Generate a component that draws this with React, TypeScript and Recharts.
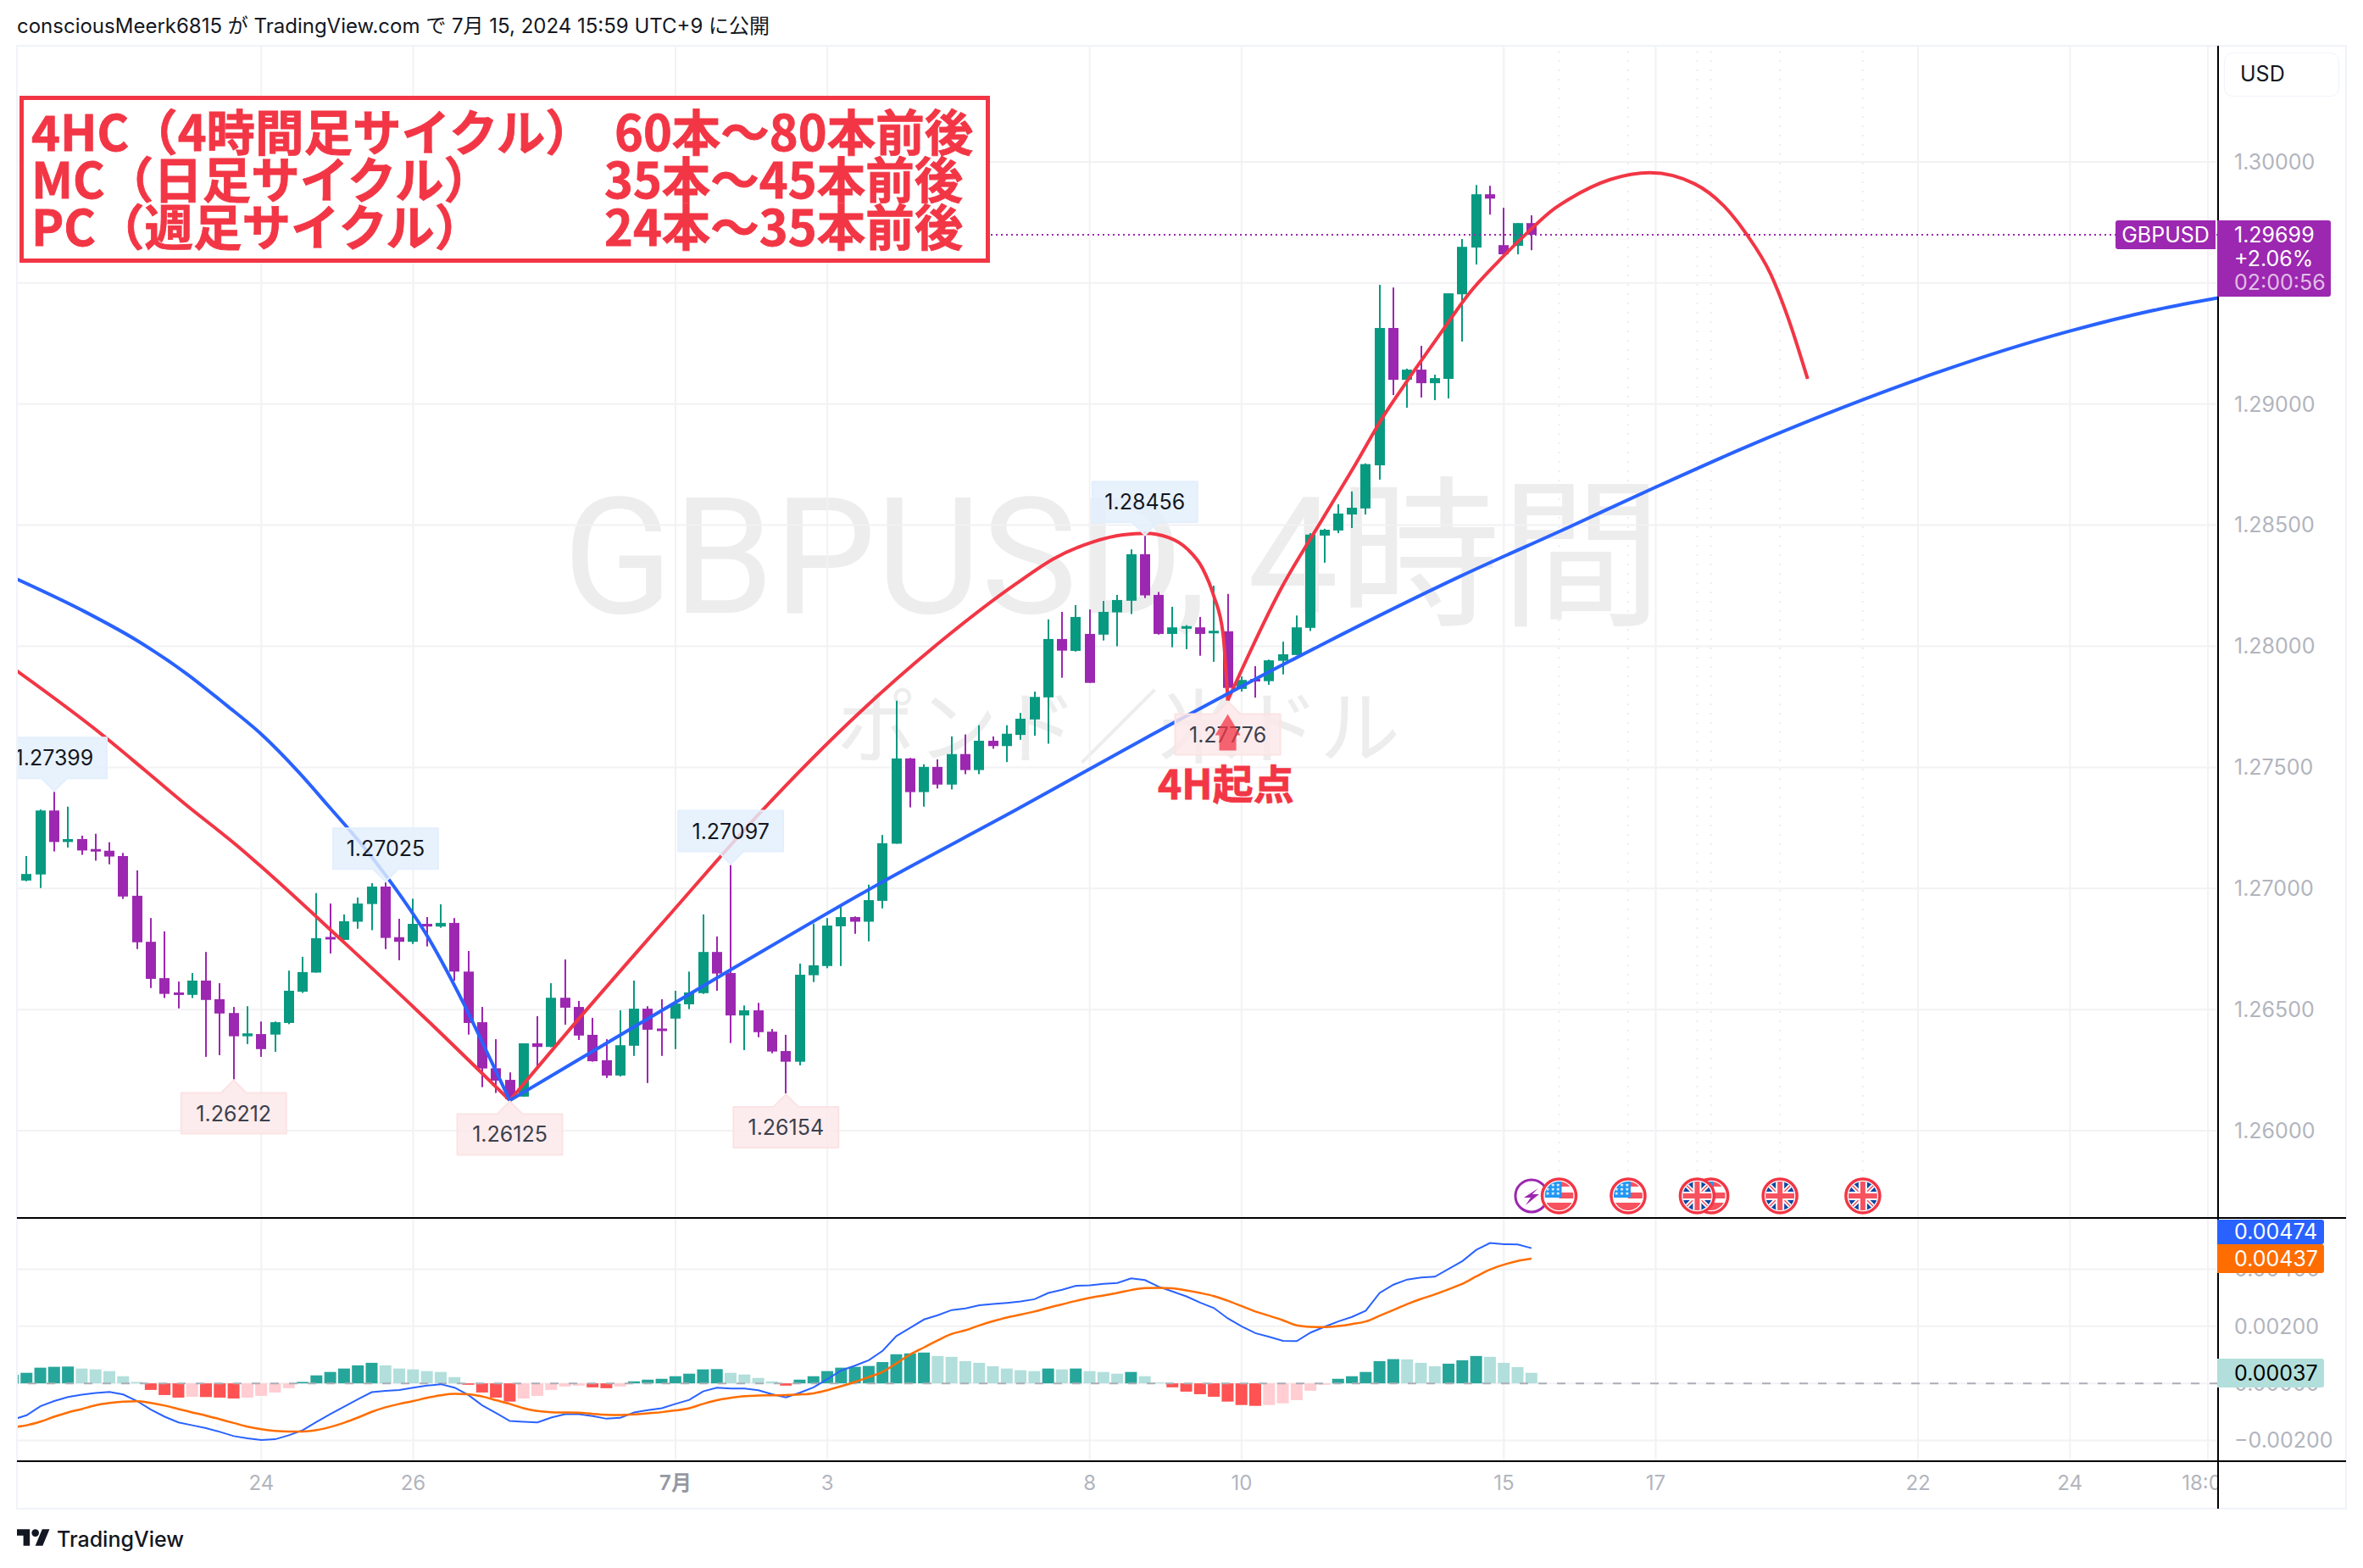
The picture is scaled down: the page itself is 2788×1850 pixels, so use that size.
import React from "react";
import {
  Bar,
  CartesianGrid,
  Cell,
  ComposedChart,
  Line,
  ReferenceDot,
  ReferenceLine,
  XAxis,
  YAxis,
} from "recharts";

// 4H bars, oldest first.
const opens = [
  1.27082, 1.27033, 1.27058, 1.27322, 1.27192, 1.27204, 1.27163, 1.27156, 1.27134, 1.2697,
  1.2678, 1.2663, 1.26571, 1.26561, 1.2662, 1.26543, 1.26486, 1.2639, 1.26399, 1.26397,
  1.26445, 1.26574, 1.26653, 1.268, 1.26788, 1.26863, 1.26936, 1.27008, 1.26799, 1.2678,
  1.26854, 1.26843, 1.26858, 1.26657, 1.26448, 1.26258, 1.2621, 1.26141, 1.26361, 1.26346,
  1.26549, 1.26511, 1.26396, 1.26291, 1.26228, 1.26351, 1.26504, 1.26422, 1.26463, 1.26522,
  1.26568, 1.26738, 1.26651, 1.26476, 1.26497, 1.26409, 1.26329, 1.26285, 1.26642, 1.2668,
  1.26844, 1.26882, 1.26863, 1.26949, 1.27185, 1.27537, 1.27398, 1.27502, 1.27429, 1.27555,
  1.27489, 1.2761, 1.27588, 1.27634, 1.27698, 1.27789, 1.2803, 1.27981, 1.28051, 1.28048,
  1.2814, 1.28188, 1.2838, 1.28212, 1.28051, 1.28077, 1.28078, 1.28059, 1.28062, 1.27824,
  1.27865, 1.27856, 1.2794, 1.27964, 1.28076, 1.28457, 1.28478, 1.28544, 1.28569, 1.28747,
  1.29314, 1.291, 1.29142, 1.29086, 1.29104, 1.29453, 1.29646, 1.29866, 1.29656, 1.29653,
  1.29747,
];
const closes = [
  1.27033, 1.2706, 1.27322, 1.27192, 1.27204, 1.27157, 1.27158, 1.27132, 1.26967, 1.26778,
  1.26627, 1.26565, 1.26565, 1.2662, 1.2654, 1.26484, 1.2639, 1.26402, 1.26337, 1.26448,
  1.26578, 1.26655, 1.26795, 1.26794, 1.26865, 1.26938, 1.27008, 1.26796, 1.2678, 1.26854,
  1.26843, 1.26858, 1.26657, 1.26445, 1.26257, 1.26207, 1.2613, 1.26361, 1.26346, 1.26549,
  1.26508, 1.26393, 1.26287, 1.26228, 1.26353, 1.26504, 1.26417, 1.26417, 1.26525, 1.26571,
  1.26738, 1.26649, 1.26476, 1.26497, 1.26407, 1.26327, 1.26285, 1.26644, 1.26683, 1.26847,
  1.26882, 1.26863, 1.26952, 1.27187, 1.27537, 1.27398, 1.27502, 1.27429, 1.27555, 1.27489,
  1.2761, 1.27588, 1.27639, 1.27701, 1.27791, 1.2803, 1.27982, 1.28121, 1.27849, 1.28142,
  1.28191, 1.2838, 1.2821, 1.28051, 1.28078, 1.28083, 1.28051, 1.28064, 1.27828, 1.27861,
  1.2786, 1.27942, 1.27967, 1.28078, 1.28461, 1.28481, 1.28548, 1.28572, 1.28752, 1.29314,
  1.291, 1.29142, 1.29086, 1.29107, 1.29457, 1.29649, 1.29866, 1.29848, 1.29618, 1.29747,
  1.29699,
];
const highs = [
  1.2709, 1.27134, 1.27326, 1.27399, 1.27338, 1.27218, 1.27226, 1.27191, 1.27147, 1.27075,
  1.26878, 1.26823, 1.26616, 1.26651, 1.26738, 1.26609, 1.26511, 1.26514, 1.26451, 1.26451,
  1.26661, 1.26718, 1.26981, 1.26938, 1.26893, 1.26963, 1.27022, 1.27025, 1.26875, 1.26958,
  1.26882, 1.26935, 1.26878, 1.26742, 1.26511, 1.26378, 1.26241, 1.26361, 1.26473, 1.26609,
  1.26707, 1.26536, 1.26466, 1.26378, 1.26497, 1.2662, 1.26514, 1.26543, 1.26578, 1.26657,
  1.26893, 1.26802, 1.27097, 1.26517, 1.26528, 1.2642, 1.26396, 1.2669, 1.26855, 1.26878,
  1.26931, 1.26885, 1.27016, 1.27221, 1.27775, 1.27539, 1.27513, 1.27533, 1.27628, 1.27636,
  1.27674, 1.27628, 1.27674, 1.27725, 1.27813, 1.28111, 1.28142, 1.2817, 1.28152, 1.28187,
  1.28212, 1.284, 1.28456, 1.28224, 1.28163, 1.28087, 1.28121, 1.2825, 1.28216, 1.27876,
  1.27918, 1.27945, 1.28019, 1.28127, 1.28467, 1.28485, 1.28586, 1.28639, 1.28755, 1.29492,
  1.29481, 1.29146, 1.2924, 1.29121, 1.29457, 1.29681, 1.29904, 1.29901, 1.2981, 1.29747,
  1.29779,
];
const lows = [
  1.2703, 1.2703, 1.27002, 1.27153, 1.27169, 1.27139, 1.27115, 1.271, 1.26957, 1.2675,
  1.26589, 1.26548, 1.26505, 1.26548, 1.26305, 1.26312, 1.26212, 1.26358, 1.26305, 1.26326,
  1.2644, 1.26569, 1.26653, 1.26732, 1.26788, 1.26834, 1.26828, 1.2675, 1.26704, 1.26771,
  1.26761, 1.26838, 1.26619, 1.26397, 1.2618, 1.26156, 1.26125, 1.26141, 1.26259, 1.26345,
  1.26438, 1.26375, 1.26285, 1.26218, 1.26224, 1.26309, 1.26197, 1.26309, 1.26337, 1.26502,
  1.26565, 1.26578, 1.26362, 1.26333, 1.26386, 1.2632, 1.26154, 1.2627, 1.26614, 1.26671,
  1.2668, 1.26813, 1.26782, 1.26918, 1.27185, 1.27335, 1.27338, 1.27413, 1.27409, 1.27472,
  1.27472, 1.27577, 1.27522, 1.27614, 1.27631, 1.27598, 1.2787, 1.27978, 1.27849, 1.28024,
  1.28, 1.28133, 1.28199, 1.28048, 1.27996, 1.27988, 1.27961, 1.27936, 1.27776, 1.27813,
  1.27788, 1.27841, 1.27884, 1.27964, 1.28063, 1.28345, 1.28467, 1.28488, 1.28544, 1.28688,
  1.29037, 1.28985, 1.29027, 1.29016, 1.29023, 1.29258, 1.29576, 1.29782, 1.29618, 1.29618,
  1.29635,
];

// MACD pane, in units of 0.00001
const histValues = [
  30, 37, 55, 58, 59, 52, 49, 43, 25, 5,
  -23, -41, -50, -47, -48, -50, -53, -50, -44, -32,
  -17, 5, 28, 40, 52, 63, 72, 63, 52, 49,
  43, 40, 22, -5, -32, -50, -64, -53, -44, -23,
  -11, -8, -14, -17, -11, 7, 13, 16, 25, 34,
  49, 50, 37, 31, 19, 7, -8, 13, 25, 43,
  55, 58, 61, 75, 102, 105, 108, 96, 93, 78,
  72, 60, 52, 46, 43, 52, 49, 52, 43, 40,
  34, 40, 25, 3, -14, -29, -38, -47, -64, -76,
  -79, -76, -70, -59, -26, -5, 16, 25, 40, 78,
  85, 84, 72, 60, 69, 81, 96, 93, 72, 57,
  37,
];
const macdValues = [
  -127, -112, -80, -62, -48, -40, -34, -30, -39, -62,
  -92, -117, -137, -147, -157, -170, -185, -193, -199, -196,
  -182, -164, -135, -108, -82, -56, -31, -26, -23, -15,
  -8, -3, -15, -41, -77, -104, -132, -135, -137, -120,
  -108, -108, -115, -124, -121, -102, -94, -87, -72, -58,
  -28, -15, -18, -18, -24, -38, -49, -33, -14, 15,
  45, 62, 81, 114, 166, 195, 224, 239, 257, 263,
  274, 278, 282, 287, 295, 317, 328, 342, 344, 349,
  352, 368, 362, 339, 322, 305, 283, 264, 228, 200,
  176, 163, 149, 148, 178, 198, 217, 233, 255, 317,
  346, 364, 371, 374, 401, 429, 468, 492, 488, 487,
  474,
];
const signalValues = [
  -154, -147, -134, -117, -102, -90, -77, -69, -64, -63,
  -69, -78, -90, -102, -113, -126, -139, -152, -161, -167,
  -169, -169, -164, -153, -138, -120, -100, -84, -72, -62,
  -51, -42, -37, -38, -46, -59, -72, -87, -97, -101,
  -102, -103, -107, -110, -111, -109, -105, -101, -95, -87,
  -72, -59, -51, -45, -43, -42, -41, -39, -35, -24,
  -10, 5, 22, 40, 70, 101, 126, 151, 173, 186,
  203, 218, 231, 241, 252, 265, 277, 289, 300, 308,
  317, 327, 334, 335, 333, 326, 317, 306, 290, 271,
  252, 237, 221, 203, 198, 197, 201, 208, 217, 237,
  257, 278, 296, 312, 330, 349, 375, 399, 416, 429,
  437,
];

// drawn arcs: [bar, price]
const redArc1 = [[0.3, 1.27898], [6.44, 1.27636], [9.51, 1.27491], [12.58, 1.27344], [16.26, 1.27176], [17.98, 1.27091], [23.87, 1.26784], [29.2, 1.26501], [36, 1.26125]];
const redArc2 = [[36, 1.26125], [41.37, 1.26487], [47.67, 1.26898], [53.95, 1.27302], [61.38, 1.27729], [67.21, 1.2802], [72.74, 1.28261], [75.48, 1.28364], [78.2, 1.2843], [80.41, 1.2846], [82.06, 1.28466], [83.7, 1.28449], [85.08, 1.28401], [86.17, 1.28322], [86.98, 1.28209], [87.66, 1.28051], [88, 1.27776]];
const redArc3 = [[88, 1.27776], [91.92, 1.28244], [94.84, 1.28523], [97.29, 1.28755], [99.32, 1.28954], [100.98, 1.29094], [103.43, 1.29293], [105.46, 1.29455], [107.52, 1.29584], [109.57, 1.297], [111.6, 1.29804], [112.64, 1.29843], [115.71, 1.29927], [118.6, 1.29955], [121.78, 1.2991], [123.93, 1.29818], [125.59, 1.297], [127.31, 1.29538], [128.54, 1.29363], [130, 1.29104]];
const blueArc1 = [[0.3, 1.28277], [5.21, 1.28143], [8.9, 1.28027], [12.58, 1.27887], [15.44, 1.27758], [17.9, 1.27642], [20.74, 1.27478], [22.81, 1.27344], [25.35, 1.27176], [27.56, 1.27012], [30.04, 1.26802], [32.65, 1.26526], [34.68, 1.26284], [36, 1.26125]];
const blueArc2 = [[36, 1.26125], [40.82, 1.26288], [51.78, 1.26657], [62.73, 1.27019], [72.74, 1.27327], [82.31, 1.27629], [94.65, 1.28002], [104.85, 1.28289], [112.64, 1.2849], [118.96, 1.28656], [125.47, 1.28821], [134, 1.29018], [137.99, 1.29102], [148.98, 1.29301], [155.4, 1.29391], [159.73, 1.29438]];

const priceTicks = [1.26, 1.265, 1.27, 1.275, 1.28, 1.285, 1.29, 1.295, 1.3];
const macdTicks = [-0.002, 0, 0.002, 0.004];
const dateTickBars = [18, 29, 48, 59, 78, 89, 108, 119, 138, 149, 159];
const dateTickLabels = ["24", "26", "7月", "3", "8", "10", "15", "17", "22", "24", "18:00"];
const highCallouts = [[3, 1.27399], [27, 1.27025], [52, 1.27097], [82, 1.28456]];
const lowCallouts = [[16, 1.26212], [36, 1.26125], [56, 1.26154], [88, 1.27776]];
const eventBars = [110, 112, 117, 123, 122, 128, 134];
const eventKinds = ["bolt", "us", "us", "us", "uk", "uk", "uk"];

const LAST_PRICE = 1.29699;
const EVENT_PRICE = 1.25731;
const X_DOMAIN: [number, number] = [0.3, 159.73];

const FONT = "Inter, 'Noto Sans CJK JP', sans-serif";
const JP_FONT = "'Noto Sans CJK JP', sans-serif";
const GREEN = "#089981";
const PURPLE = "#9C27B0";
const RED = "#F23645";
const BLUE = "#2962FF";
const ORANGE = "#FF6D00";
const GRID = "#F2F2F5";
const FRAME = "#F0F3FA";
const AXIS_TEXT = "#B2B5BE";

const toPoints = (rows: number[][]) => rows.map(([bar, price]) => ({ bar, price }));

const candles = opens.map((open, bar) => ({
  bar,
  open,
  close: closes[bar],
  range: [lows[bar], highs[bar]],
}));

const macdRows = histValues.map((hist, bar) => ({
  bar,
  hist: hist / 100000,
  macd: macdValues[bar] / 100000,
  signal: signalValues[bar] / 100000,
}));

function histColor(index: number) {
  const v = histValues[index];
  const prev = index > 0 ? histValues[index - 1] : 0;
  if (v >= 0) return v >= prev ? "#26A69A" : "#B2DFDB";
  return v < prev ? "#FF5252" : "#FFCDD2";
}

function Candle(props: any) {
  const { x, y, width, height, payload } = props;
  const [low, high] = payload.range;
  const top = Math.min(y, y + height);
  const h = Math.abs(height);
  const perPrice = h / (high - low);
  const bodyTop = top + (high - Math.max(payload.open, payload.close)) * perPrice;
  const bodyBottom = top + (high - Math.min(payload.open, payload.close)) * perPrice;
  const color = payload.close >= payload.open ? GREEN : PURPLE;
  const cx = Math.round(x + width / 2);
  return (
    <g>
      <rect x={cx - 1} y={top} width={2} height={h} fill={color} />
      <rect x={cx - 6} y={bodyTop} width={12} height={Math.max(bodyBottom - bodyTop, 3)} fill={color} />
    </g>
  );
}

// little price tag with a pointer, above the high or below the low
function Callout(props: any) {
  const { cx, cy, label, up } = props;
  const w = 124;
  const h = 48;
  const tip = up ? cy - 1 : cy + 1;
  const near = up ? tip - 15 : tip + 15;
  const far = up ? near - h : near + h;
  const l = cx - w / 2;
  const r = cx + w / 2;
  const d = `M${l} ${near} L${cx - 15} ${near} L${cx} ${tip} L${cx + 15} ${near} L${r} ${near} L${r} ${far} L${l} ${far} Z`;
  return (
    <g>
      <path
        d={d}
        fill={up ? "rgba(227,239,253,0.82)" : "rgba(253,232,233,0.82)"}
        stroke={up ? "#E3EFFD" : "#FBE3E4"}
        strokeWidth={2}
        strokeLinejoin="round"
      />
      <text
        x={cx}
        y={(near + far) / 2 + 9}
        textAnchor="middle"
        fontSize={25}
        fontFamily={FONT}
        fill={up ? "#131722" : "#3C404C"}
      >
        {label}
      </text>
    </g>
  );
}

function EventIcon(props: any) {
  const { cx, cy, kind, id } = props;
  if (kind === "bolt") {
    return (
      <g>
        <circle cx={cx} cy={cy} r={19} fill="#fff" stroke={PURPLE} strokeWidth={3} />
        <path
          d={`M${cx + 8} ${cy - 9} L${cx - 9} ${cy + 2} L${cx - 1} ${cy + 2} L${cx - 7} ${cy + 11} L${cx + 9} ${cy - 2} L${cx + 1} ${cy - 2} Z`}
          fill={PURPLE}
        />
      </g>
    );
  }
  const left = cx - 17;
  const top = cy - 17;
  return (
    <g>
      <clipPath id={id}>
        <circle cx={cx} cy={cy} r={17} />
      </clipPath>
      <circle cx={cx} cy={cy} r={20} fill="#fff" stroke={RED} strokeWidth={3.5} />
      <g clipPath={`url(#${id})`}>
        {kind === "us" ? (
          <g>
            <rect x={left} y={top} width={34} height={34} fill="#fff" />
            <rect x={cx} y={top} width={17} height={6} fill="#F7525F" />
            <rect x={cx} y={cy - 4} width={17} height={7} fill="#F7525F" />
            <rect x={left} y={cy + 8} width={34} height={10} fill="#F7525F" />
            <rect x={left} y={top} width={20} height={19} fill="#2196F3" />
            {[-5, 0, 5].map((dy) => (
              <text key={dy} x={cx - 7} y={cy - 6 + dy} textAnchor="middle" fontSize={5} letterSpacing={1} fill="#fff">
                ★★★
              </text>
            ))}
          </g>
        ) : (
          <g>
            <rect x={left} y={top} width={34} height={34} fill="#0D47A1" />
            <path d={`M${left} ${top} L${cx + 17} ${cy + 17} M${cx + 17} ${top} L${left} ${cy + 17}`} stroke="#fff" strokeWidth={5} />
            <path d={`M${left} ${top} L${cx + 17} ${cy + 17} M${cx + 17} ${top} L${left} ${cy + 17}`} stroke="#F7525F" strokeWidth={1.5} />
            <rect x={cx - 5} y={top} width={10} height={34} fill="#fff" />
            <rect x={left} y={cy - 5} width={34} height={10} fill="#fff" />
            <rect x={cx - 3} y={top} width={6} height={34} fill="#F7525F" />
            <rect x={left} y={cy - 3} width={34} height={6} fill="#F7525F" />
          </g>
        )}
      </g>
    </g>
  );
}

function TimeTick(props: any) {
  const { x, y, payload } = props;
  const label = dateTickLabels[dateTickBars.indexOf(payload.value)];
  const strong = label === "7月";
  return (
    <text
      x={x}
      y={y + 26}
      textAnchor="middle"
      fontSize={24}
      fontFamily={FONT}
      fontWeight={strong ? 600 : 400}
      fill={strong ? "#9598A1" : AXIS_TEXT}
    >
      {label}
    </text>
  );
}

const macdTickLabel = (v: number) => (v < 0 ? "−" : "") + Math.abs(v).toFixed(5);

function PriceChart() {
  return (
    <ComposedChart
      width={2748}
      height={1383}
      data={candles}
      margin={{ top: 0, right: 0, bottom: 0, left: 0 }}
      style={{ position: "absolute", left: 20, top: 54 }}
    >
      <CartesianGrid
        stroke={GRID}
        strokeWidth={2}
        horizontalValues={priceTicks}
        verticalValues={dateTickBars}
      />
      <XAxis dataKey="bar" type="number" domain={X_DOMAIN} allowDataOverflow hide ticks={dateTickBars} />
      <YAxis
        orientation="right"
        width={151}
        domain={[1.2564, 1.30479]}
        allowDataOverflow
        ticks={priceTicks}
        tickFormatter={(v: number) => v.toFixed(5)}
        tick={{ fill: AXIS_TEXT, fontSize: 25, fontFamily: FONT }}
        tickSize={0}
        tickMargin={19}
        axisLine={false}
        tickLine={false}
        interval={0}
      />
      {eventBars.slice(1).map((bar) => (
        <ReferenceLine key={bar} x={bar} stroke="#EDEDF0" strokeWidth={2} strokeDasharray="2 9" />
      ))}
      <ReferenceLine y={LAST_PRICE} stroke={PURPLE} strokeWidth={2} strokeDasharray="2 4" />
      <Bar dataKey="range" barSize={12} shape={Candle} isAnimationActive={false} />
      <Line data={toPoints(redArc1)} dataKey="price" type="monotone" stroke={RED} strokeWidth={4} dot={false} isAnimationActive={false} />
      <Line data={toPoints(redArc2)} dataKey="price" type="monotone" stroke={RED} strokeWidth={4} dot={false} isAnimationActive={false} />
      <Line data={toPoints(redArc3)} dataKey="price" type="monotone" stroke={RED} strokeWidth={4} dot={false} isAnimationActive={false} />
      <Line data={toPoints(blueArc1)} dataKey="price" type="monotone" stroke={BLUE} strokeWidth={4} dot={false} isAnimationActive={false} />
      <Line data={toPoints(blueArc2)} dataKey="price" type="monotone" stroke={BLUE} strokeWidth={4} dot={false} isAnimationActive={false} />
      {highCallouts.map(([bar, price]) => (
        <ReferenceDot
          key={bar}
          x={bar}
          y={price}
          r={0}
          shape={(p: any) => <Callout {...p} up label={price.toFixed(5)} />}
        />
      ))}
      {lowCallouts.map(([bar, price]) => (
        <ReferenceDot
          key={bar}
          x={bar}
          y={price}
          r={0}
          shape={(p: any) => <Callout {...p} label={price.toFixed(5)} />}
        />
      ))}
      {eventBars.map((bar, i) => (
        <ReferenceDot
          key={bar}
          x={bar}
          y={EVENT_PRICE}
          r={0}
          shape={(p: any) => <EventIcon {...p} kind={eventKinds[i]} id={`event-${bar}`} />}
        />
      ))}
      {/* 4H origin arrow under the low */}
      <ReferenceDot
        x={88}
        y={1.27776}
        r={0}
        shape={(p: any) => (
          <path
            d={`M${p.cx} ${p.cy + 16} L${p.cx + 15} ${p.cy + 41} L${p.cx + 10} ${p.cy + 41} L${p.cx + 10} ${p.cy + 59} L${p.cx - 10} ${p.cy + 59} L${p.cx - 10} ${p.cy + 41} L${p.cx - 15} ${p.cy + 41} Z`}
            fill={RED}
            fillOpacity={0.75}
          />
        )}
      />
    </ComposedChart>
  );
}

function MacdChart() {
  return (
    <ComposedChart
      width={2748}
      height={342}
      data={macdRows}
      margin={{ top: 0, right: 0, bottom: 0, left: 0 }}
      style={{ position: "absolute", left: 20, top: 1438 }}
    >
      <CartesianGrid
        stroke={GRID}
        strokeWidth={2}
        horizontalValues={macdTicks}
        verticalValues={dateTickBars}
      />
      <XAxis
        dataKey="bar"
        type="number"
        domain={X_DOMAIN}
        allowDataOverflow
        ticks={dateTickBars}
        interval={0}
        height={56}
        axisLine={false}
        tickLine={false}
        tick={TimeTick}
      />
      <YAxis
        orientation="right"
        width={151}
        domain={[-0.00273, 0.00577]}
        allowDataOverflow
        ticks={macdTicks}
        tickFormatter={macdTickLabel}
        tick={{ fill: AXIS_TEXT, fontSize: 25, fontFamily: FONT }}
        tickSize={0}
        tickMargin={19}
        axisLine={false}
        tickLine={false}
        interval={0}
      />
      <Bar dataKey="hist" barSize={14} isAnimationActive={false}>
        {macdRows.map((row, i) => (
          <Cell key={row.bar} fill={histColor(i)} />
        ))}
      </Bar>
      <ReferenceLine y={0} stroke="#ABAEB6" strokeWidth={2} strokeDasharray="10 12" />
      <Line dataKey="macd" type="linear" stroke={BLUE} strokeWidth={2} dot={false} isAnimationActive={false} />
      <Line dataKey="signal" type="monotone" stroke={ORANGE} strokeWidth={2.5} dot={false} isAnimationActive={false} />
    </ComposedChart>
  );
}

function Box(props: { left: number; top: number; width: number; height: number; style?: React.CSSProperties; children?: React.ReactNode }) {
  const { left, top, width, height, style, children } = props;
  return <div style={{ position: "absolute", left, top, width, height, ...style }}>{children}</div>;
}

function Tag(props: { left: number; top: number; width: number; height: number; color: string; text: string; textColor?: string; pad?: number }) {
  const { left, top, width, height, color, text, textColor = "#fff", pad = 20 } = props;
  return (
    <Box
      left={left}
      top={top}
      width={width}
      height={height}
      style={{
        background: color,
        color: textColor,
        fontSize: 25,
        lineHeight: `${height}px`,
        paddingLeft: pad,
        boxSizing: "border-box",
        borderRadius: "0 3px 3px 0",
      }}
    >
      {text}
    </Box>
  );
}

const noteText: React.CSSProperties = {
  position: "absolute",
  whiteSpace: "nowrap",
  color: RED,
  fontFamily: JP_FONT,
  fontWeight: 700,
  fontSize: 57.5,
  lineHeight: "56px",
  WebkitTextStroke: `0.8px ${RED}`,
};

export default function App() {
  return (
    <div
      style={{
        position: "absolute",
        left: 0,
        top: 0,
        width: 2788,
        height: 1850,
        background: "#fff",
        overflow: "hidden",
        fontFamily: FONT,
      }}
    >
      <div style={{ position: "absolute", left: 20, top: 16, fontSize: 24, lineHeight: "30px", color: "#131722", whiteSpace: "nowrap" }}>
        consciousMeerk6815 が TradingView.com で 7月 15, 2024 15:59 UTC+9 に公開
      </div>

      {/* watermark sits behind the chart */}
      <div style={{ position: "absolute", left: 664, top: 538, fontSize: 191, lineHeight: "240px", color: "#EDEDED", whiteSpace: "nowrap", fontFamily: "Roboto, 'Noto Sans CJK JP', sans-serif" }}>
        GBPUSD, 4時間
      </div>
      <div style={{ position: "absolute", left: 987, top: 792, fontSize: 95, lineHeight: "120px", color: "#EDEDED", whiteSpace: "nowrap", fontFamily: JP_FONT }}>
        ポンド／米ドル
      </div>

      <PriceChart />
      <MacdChart />

      {/* pane frame and separators */}
      <Box left={2618} top={1725} width={150} height={54} style={{ background: "#fff" }} />
      <Box left={19} top={53} width={2750} height={1728} style={{ border: `2px solid ${FRAME}`, boxSizing: "border-box" }} />
      <Box left={20} top={1436} width={2748} height={2} style={{ background: "#000" }} />
      <Box left={20} top={1723} width={2748} height={2} style={{ background: "#000" }} />
      <Box left={2616} top={54} width={2} height={1726} style={{ background: "#000" }} />

      <Box left={2624} top={62} width={136} height={52} style={{ border: `1.5px solid ${FRAME}`, borderRadius: 10, boxSizing: "border-box", paddingLeft: 18, fontSize: 25, lineHeight: "49px", color: "#131722" }}>
        USD
      </Box>

      <Box left={2496} top={260} width={118} height={34} style={{ background: PURPLE, color: "#fff", borderRadius: "3px 0 0 3px", fontSize: 25, lineHeight: "34px", textAlign: "center" }}>
        GBPUSD
      </Box>
      <Box left={2616} top={260} width={134} height={90} style={{ background: PURPLE, color: "#fff", borderRadius: "0 3px 3px 0", fontSize: 25, lineHeight: "28px", paddingLeft: 20, paddingTop: 3, boxSizing: "border-box" }}>
        <div>1.29699</div>
        <div>+2.06%</div>
        <div style={{ color: "#E1BEE7" }}>02:00:56</div>
      </Box>

      <Tag left={2616} top={1439} width={126} height={29} color={BLUE} text="0.00474" />
      <Tag left={2616} top={1468} width={126} height={34} color={ORANGE} text="0.00437" />
      <Tag left={2616} top={1603} width={126} height={34} color="#B2DFDB" text="0.00037" textColor="#000" />

      {/* cycle note */}
      <Box left={23} top={113} width={1145} height={197} style={{ border: `5px solid ${RED}`, background: "#fff", boxSizing: "border-box" }} />
      <div style={{ ...noteText, left: 37, top: 125 }}>4HC（4時間足サイクル）</div>
      <div style={{ ...noteText, left: 725, top: 125 }}>60本〜80本前後</div>
      <div style={{ ...noteText, left: 37, top: 181 }}>MC（日足サイクル）</div>
      <div style={{ ...noteText, left: 713, top: 181 }}>35本〜45本前後</div>
      <div style={{ ...noteText, left: 37, top: 237 }}>PC（週足サイクル）</div>
      <div style={{ ...noteText, left: 713, top: 237 }}>24本〜35本前後</div>

      <div style={{ ...noteText, left: 1366, top: 892, fontSize: 48, lineHeight: "60px" }}>4H起点</div>

      {/* footer logo */}
      <svg width={39} height={20} viewBox="0 4 36 18" style={{ position: "absolute", left: 20, top: 1804 }}>
        <path d="M14 22H7V11H0V4h14v18zM28 22h-8l7.5-18h8L28 22z" fill="#131722" />
        <circle cx={20} cy={8} r={4} fill="#131722" />
      </svg>
      <div style={{ position: "absolute", left: 67, top: 1798, fontSize: 25, lineHeight: "36px", color: "#131722", fontWeight: 500 }}>
        TradingView
      </div>
    </div>
  );
}
